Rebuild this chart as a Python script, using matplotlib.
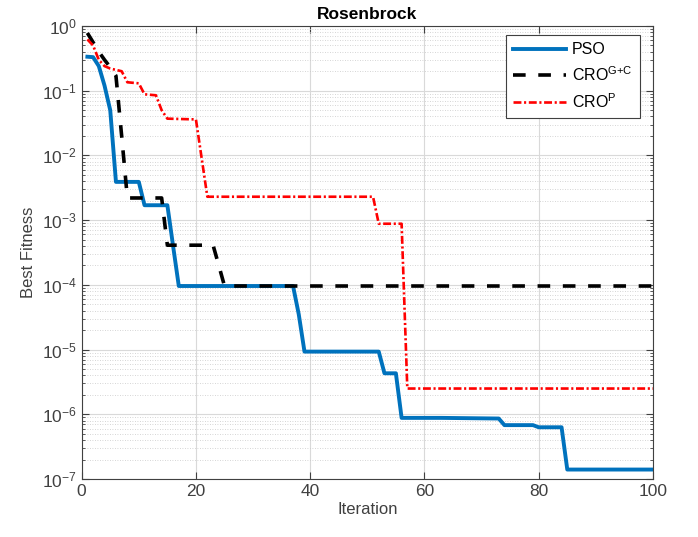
import matplotlib
matplotlib.use('Agg')
import matplotlib.pyplot as plt
import matplotlib.ticker as mticker

plt.rcParams['font.family'] = ['Liberation Sans', 'DejaVu Sans']
plt.rcParams['mathtext.fontset'] = 'custom'
plt.rcParams['mathtext.rm'] = 'Liberation Sans'
plt.rcParams['mathtext.it'] = 'Liberation Sans'

# Corner points (iteration, best fitness)
pso_iter = [1, 2, 3, 4, 5, 6, 10, 11, 15, 16, 17, 37, 38, 39, 52, 53, 55, 56, 63, 73, 74, 79, 80, 84, 85, 100]
pso_fit = [0.335, 0.33, 0.24, 0.12, 0.05, 0.0039, 0.0039, 0.0017, 0.0017, 4.0e-4, 9.6e-5, 9.6e-5,
           3.5e-5, 9.3e-6, 9.3e-6, 4.3e-6, 4.3e-6, 8.8e-7, 8.8e-7, 8.6e-7, 6.8e-7, 6.8e-7,
           6.3e-7, 6.3e-7, 1.4e-7, 1.4e-7]

crogc_iter = [1, 2, 3, 4, 5, 6, 7, 8, 14, 15, 23, 24, 25, 100]
crogc_fit = [0.78, 0.56, 0.4, 0.3, 0.23, 0.17, 0.02, 0.0022, 0.0022, 4.1e-4, 4.1e-4, 2.0e-4,
             9.6e-5, 9.6e-5]

crop_iter = [1, 2, 3, 4, 5, 7, 8, 10, 11, 13, 14, 15, 20, 21, 22, 51, 52, 56, 57, 100]
crop_fit = [0.62, 0.5, 0.3, 0.24, 0.22, 0.2, 0.135, 0.13, 0.088, 0.085, 0.05, 0.037, 0.036,
            0.0091, 0.0023, 0.0023, 8.8e-4, 8.8e-4, 2.5e-6, 2.5e-6]

labels = ['PSO', r'CRO$^{\mathrm{G{+}C}}$', r'CRO$^{\mathrm{P}}$']

fig = plt.figure(figsize=(6.98, 5.37), dpi=100)
ax = fig.add_axes([0.117, 0.108, 0.8185, 0.8436])

ax.plot(pso_iter, pso_fit, color='#0072BD', linewidth=2.8, label=labels[0])
ax.plot(crogc_iter, crogc_fit, color='black', linewidth=2.6, linestyle=(0, (3.5, 3.5)), label=labels[1])
ax.plot(crop_iter, crop_fit, color='red', linewidth=1.9, linestyle=(0, (3.0, 1.0, 0.8, 1.0)), label=labels[2])

ax.set_yscale('log')
ax.set_xlim(0, 100)
ax.set_ylim(1e-7, 1)
ax.set_xticks([0, 20, 40, 60, 80, 100])
ax.yaxis.set_major_locator(mticker.LogLocator(base=10, numticks=10))
ax.yaxis.set_minor_locator(mticker.LogLocator(base=10, subs=range(2, 10), numticks=100))
ax.yaxis.set_minor_formatter(mticker.NullFormatter())

# MATLAB-like grid
ax.grid(True, which='major', color='#d9d9d9', linewidth=0.8)
ax.grid(True, which='minor', axis='y', color='#c8c8c8', linestyle=(0, (1, 2)), linewidth=0.6)
ax.set_axisbelow(True)

ax.tick_params(which='both', direction='in', top=True, right=True, colors='#404040', labelsize=12.5)
ax.tick_params(which='major', length=5)
ax.tick_params(which='minor', length=2.5)
for s in ax.spines.values():
    s.set_color('#404040')
    s.set_linewidth(0.8)

ax.set_title('Rosenbrock', fontsize=12.5, fontweight='bold', color='black', pad=5)
ax.set_xlabel('Iteration', fontsize=12, color='#404040', labelpad=2)
ax.set_ylabel('Best Fitness', fontsize=12, color='#404040', labelpad=4)

leg = ax.legend(loc='upper right', bbox_to_anchor=(0.977, 0.98), borderaxespad=0, fontsize=11.5,
                fancybox=False, edgecolor='#404040', framealpha=1, handlelength=3.3,
                borderpad=0.45, labelspacing=0.5, handletextpad=0.4)
leg.get_frame().set_linewidth(0.8)

fig.savefig('out.png', dpi=100)
